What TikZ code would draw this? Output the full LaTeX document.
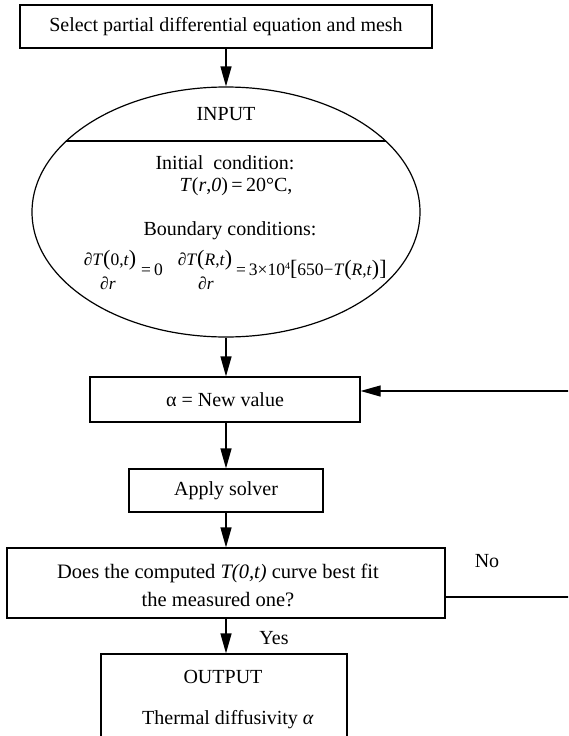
\documentclass[tikz,border=0pt]{standalone}
\usepackage{fontspec}
\setmainfont{Liberation Serif}
\usetikzlibrary{arrows.meta,shapes.geometric}

\tikzset{
  stroke/.style={line width=1.2pt},
  box/.style={stroke, draw, rectangle, inner sep=0pt, align=center,
              font=\fontsize{20}{28}\selectfont},
  txt/.style={inner sep=0pt, font=\fontsize{20}{24}\selectfont},
  eqtxt/.style={inner sep=0pt, font=\fontsize{17.5}{20}\selectfont},
  arr/.style={stroke, -{Triangle[length=20pt,width=11pt]}},
}

\newcommand{\itx}[1]{\textit{#1}}
\newcommand{\bigp}[1]{{\fontsize{22}{22}\selectfont #1}}

\begin{document}
\begin{tikzpicture}[x=1pt,y=-1pt]
\useasboundingbox (0,0) rectangle (568,736);
\clip (0,0) rectangle (568,736);

% process boxes
\node[box, minimum width=412pt, minimum height=43pt] (pde) at (226,26.5)
  {Select partial differential equation and mesh};

\node[stroke, draw, ellipse, minimum width=388pt, minimum height=250pt, inner sep=0pt]
  (inp) at (226,212) {};
\draw[stroke] ([shift={(-159.7,-71)}]inp.center) -- ([shift={(159.7,-71)}]inp.center);

\node[txt] (inlabel) at (226,114) {INPUT};
\node[txt] (initc) at (225,163) {Initial\ \ condition:};
\node[txt] (initv) at (236,187) {\itx{T}(\itx{r},\itx{0})\,=\,20°C,};
\node[txt] (bndc) at (230,231) {Boundary conditions:};

% boundary conditions
\node[eqtxt] (n1) at (110,260) {\itx{∂T}\bigp{(}0,\itx{t}\bigp{)}};
\node[eqtxt] (d1) at (108,283) {\itx{∂r}};
\node[eqtxt] (e1) at (152,270) {=\,0};
\node[eqtxt] (n2) at (205,260) {\itx{∂T}\bigp{(}\itx{R},\itx{t}\bigp{)}};
\node[eqtxt] (d2) at (206,283) {\itx{∂r}};
\node[eqtxt, anchor=west] (e2) at (236,270)
  {=\,3×10\raisebox{0.7ex}{\fontsize{10}{10}\selectfont 4}\bigp{[}650−\itx{T}\bigp{(}\itx{R},\itx{t}\bigp{)}\bigp{]}};

\node[box, minimum width=270pt, minimum height=45pt] (alpha) at (225,399.5)
  {α = New value};
\node[box, minimum width=194pt, minimum height=43pt] (solver) at (226,490.5)
  {Apply solver};
\node[box, minimum width=438pt, minimum height=70pt] (dec) at (226,583) {};
\node[txt, align=center, font=\fontsize{20.5}{28}\selectfont] (dectext) at (218,585)
  {Does the computed \itx{T(0,t)} curve best fit\\the measured one?};
\node[box, minimum width=246pt, minimum height=106pt] (out) at (224,707) {};
\node[txt] (outlabel) at (223,677) {OUTPUT};
\node[txt] (outval) at (228,720) {Thermal diffusivity \itx{α}};

% labels on the branches
\node[txt] (no) at (487,561) {No};
\node[txt] (yes) at (274,638) {Yes};

% connectors
\draw[arr] (pde) -- (inp);
\draw[arr] (inp) -- (inp |- alpha.north);
\draw[arr] (inp |- alpha.south) -- (solver);
\draw[arr] (solver) -- (dec);
\draw[arr] (dec) -- (dec |- out.north);

\coordinate (loop) at (590,597);
\draw[arr] ([yshift=-14pt]dec.east) -- (loop) |- ([yshift=8.5pt]alpha.east);
\end{tikzpicture}
\end{document}
